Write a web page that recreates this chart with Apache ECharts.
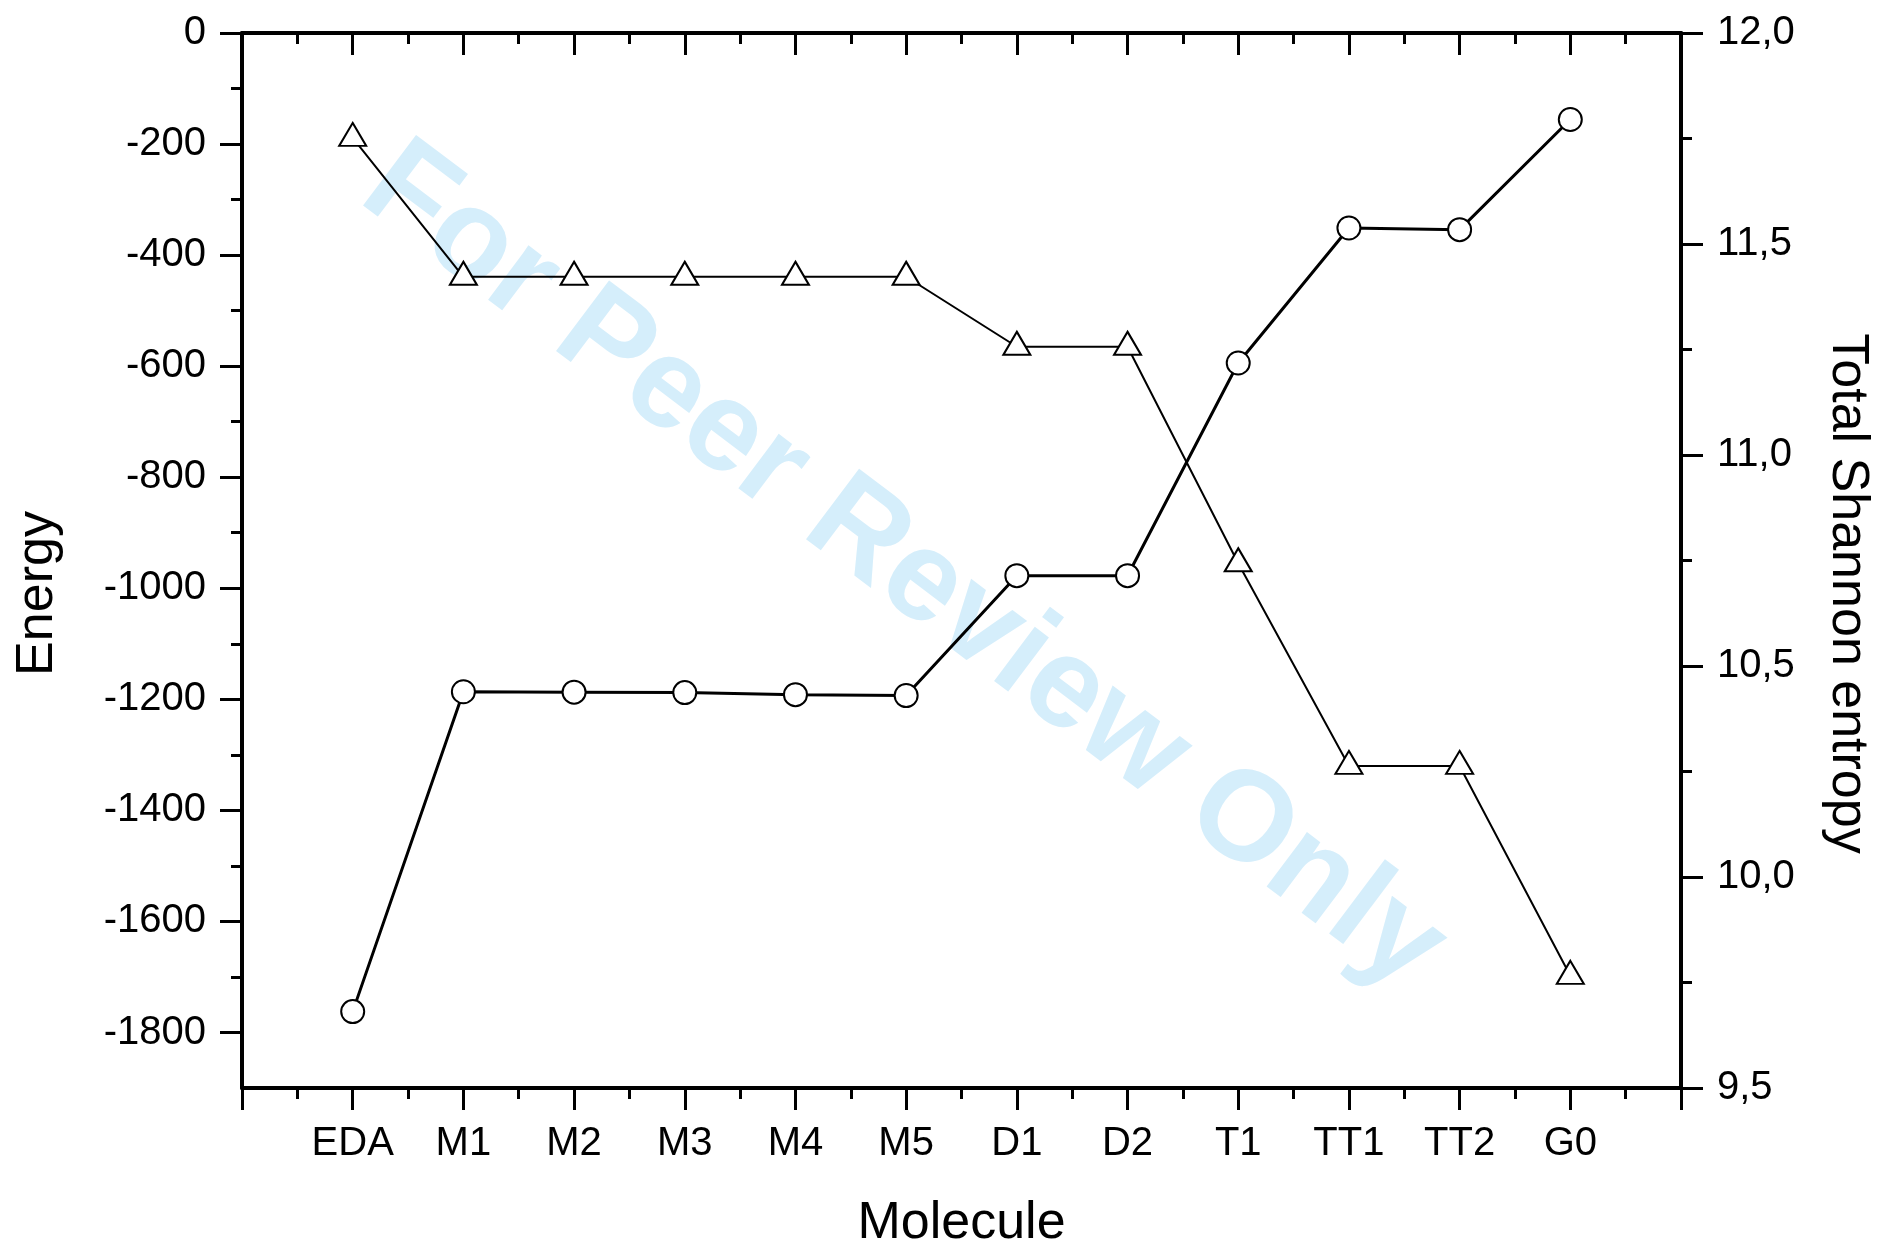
<!DOCTYPE html>
<html>
<head>
<meta charset="utf-8">
<script src="https://cdn.jsdelivr.net/npm/echarts@6/dist/echarts.min.js"></script>
<style>
html,body{margin:0;padding:0;background:#fff;}
#chart{width:1881px;height:1249px;}
</style>
</head>
<body>
<div id="chart"></div>
<script>
// ---- data ----
var categories = ['EDA', 'M1', 'M2', 'M3', 'M4', 'M5', 'D1', 'D2', 'T1', 'TT1', 'TT2', 'G0'];
var energy = [-189, -439, -439, -439, -439, -439, -565, -565, -955, -1320, -1320, -1698];
var entropy = [9.681, 10.439, 10.438, 10.437, 10.432, 10.430, 10.714, 10.714, 11.218, 11.538, 11.534, 11.795];
var energyTicks = [0, -200, -400, -600, -800, -1000, -1200, -1400, -1600, -1800];
var energyMinorTicks = [-100, -300, -500, -700, -900, -1100, -1300, -1500, -1700];
var entropyTicks = [9.5, 10.0, 10.5, 11.0, 11.5, 12.0];

var FONT = "'Liberation Sans', Arial, sans-serif";
var chart = echarts.init(document.getElementById('chart'), null, {renderer: 'canvas'});

var energyData = categories.map(function (c, i) { return [i + 1, energy[i]]; });
var entropyData = categories.map(function (c, i) { return [i + 1, entropy[i]]; });

var axisLine = {show: true, onZero: false, lineStyle: {color: '#000', width: 4}};

var option = {
  backgroundColor: '#fff',
  animation: false,
  grid: {left: 242, right: 200, top: 33, bottom: 161, containLabel: false, outerBoundsMode: 'none'},
  graphic: [{
    type: 'text',
    z: -10,
    silent: true,
    x: 903, y: 568,
    rotation: -37 * Math.PI / 180,
    style: {
      text: 'For Peer Review Only',
      fill: '#d5eefb',
      font: 'bold 128px ' + FONT,
      align: 'center',
      verticalAlign: 'middle'
    }
  }],
  xAxis: [{
    type: 'value', position: 'bottom', min: 0, max: 13, interval: 1,
    axisLine: axisLine,
    axisTick: {show: true, inside: false, length: 22, lineStyle: {color: '#000', width: 3}},
    minorTick: {show: true, splitNumber: 2, length: 11, lineStyle: {color: '#000', width: 3}},
    splitLine: {show: false},
    axisLabel: {
      show: true, margin: 36, color: '#000', fontSize: 40, fontFamily: FONT,
      formatter: function (v) { var i = Math.round(v) - 1; return categories[i] || ''; }
    },
    name: 'Molecule', nameLocation: 'middle', nameGap: 110,
    nameTextStyle: {color: '#000', fontSize: 52, fontFamily: FONT}
  }, {
    type: 'value', position: 'top', min: 0, max: 13, interval: 1,
    axisLine: axisLine,
    axisTick: {show: true, inside: true, length: 22, lineStyle: {color: '#000', width: 3}},
    minorTick: {show: true, splitNumber: 2, length: 11, lineStyle: {color: '#000', width: 3}},
    splitLine: {show: false},
    axisLabel: {show: false}
  }],
  yAxis: [{
    type: 'value', position: 'left', min: -1900, max: 0,
    axisLine: axisLine,
    axisTick: {show: true, inside: false, length: 22, customValues: energyTicks, lineStyle: {color: '#000', width: 3}},
    axisLabel: {
      show: true, customValues: energyTicks, margin: 36, color: '#000', fontSize: 40, fontFamily: FONT,
      formatter: function (v) { return String(Math.round(v)); }
    },
    splitLine: {show: false},
    name: 'Energy', nameLocation: 'middle', nameGap: 178, nameRotate: 90,
    nameTextStyle: {color: '#000', fontSize: 52, fontFamily: FONT, padding: [0, 66, 0, 0]}
  }, {
    type: 'value', position: 'left', min: -1900, max: 0,
    axisLine: {show: false},
    axisTick: {show: true, inside: false, length: 11, customValues: energyMinorTicks, lineStyle: {color: '#000', width: 3}},
    axisLabel: {show: false},
    splitLine: {show: false}
  }, {
    type: 'value', position: 'right', min: 9.5, max: 12, interval: 0.5,
    axisLine: axisLine,
    axisTick: {show: true, inside: false, length: 22, lineStyle: {color: '#000', width: 3}},
    minorTick: {show: true, splitNumber: 2, length: 11, lineStyle: {color: '#000', width: 3}},
    axisLabel: {
      show: true, margin: 36, color: '#000', fontSize: 40, fontFamily: FONT,
      formatter: function (v) { return v.toFixed(1).replace('.', ','); }
    },
    splitLine: {show: false},
    name: 'Total Shannon entropy', nameLocation: 'middle', nameGap: 140, nameRotate: -90,
    nameTextStyle: {color: '#000', fontSize: 52, fontFamily: FONT, padding: [0, 0, 0, 66]}
  }],
  series: [{
    name: 'Energy', type: 'line', xAxisIndex: 0, yAxisIndex: 0,
    data: energyData,
    symbol: 'triangle', symbolSize: [27, 23], symbolOffset: [0, -3.5],
    showAllSymbol: true,
    itemStyle: {color: '#fff', borderColor: '#000', borderWidth: 2},
    lineStyle: {color: '#000', width: 2},
    z: 3
  }, {
    name: 'Total Shannon entropy', type: 'line', xAxisIndex: 0, yAxisIndex: 2,
    data: entropyData,
    symbol: 'circle', symbolSize: 23,
    showAllSymbol: true,
    itemStyle: {color: '#fff', borderColor: '#000', borderWidth: 2},
    lineStyle: {color: '#000', width: 3},
    z: 4
  }]
};
chart.setOption(option);
</script>
</body>
</html>
